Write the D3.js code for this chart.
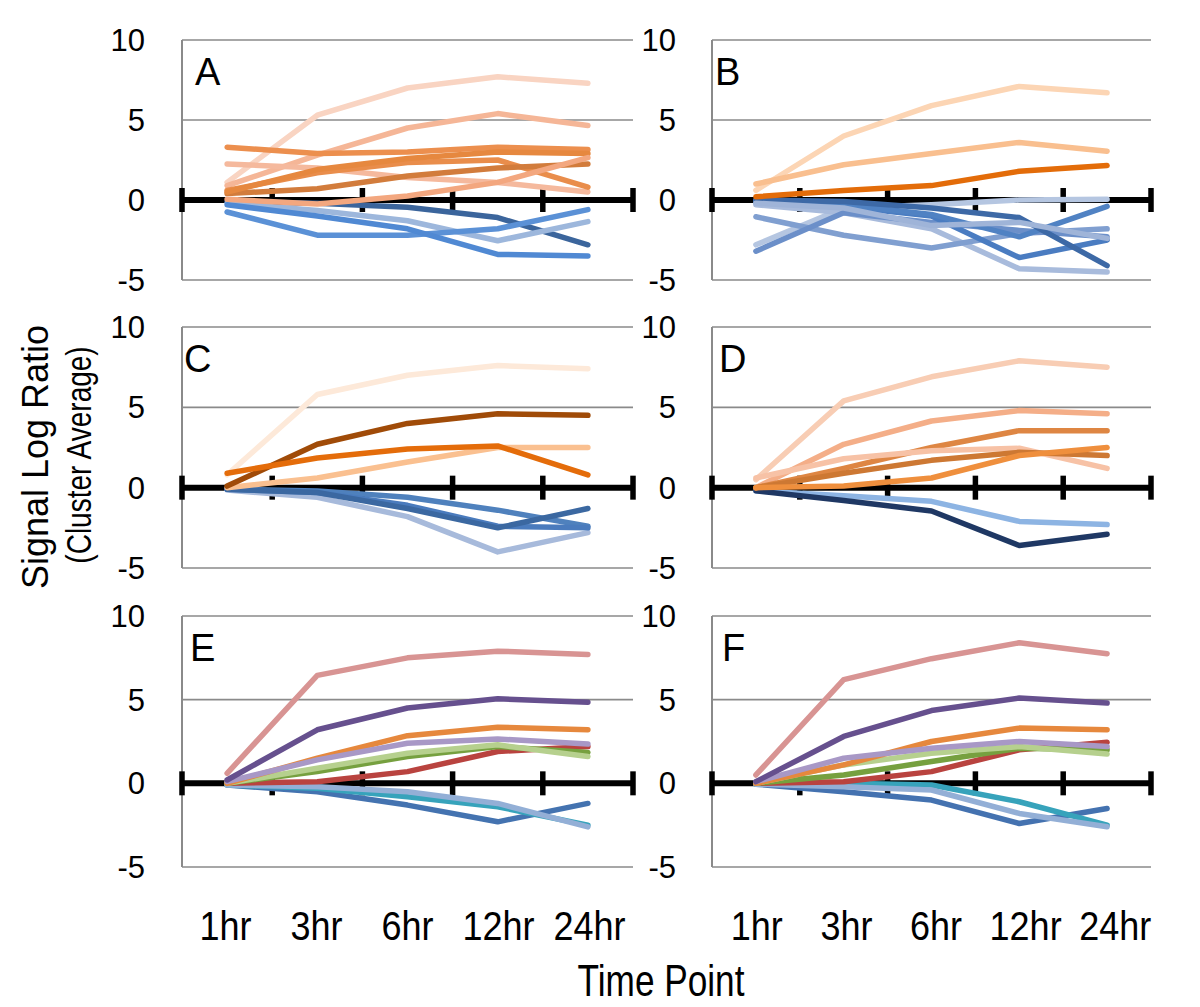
<!DOCTYPE html>
<html>
<head>
<meta charset="utf-8">
<script src="https://cdn.jsdelivr.net/npm/d3@7"></script>
<style>
  body { margin: 0; background: #fff; }
  svg { display: block; }
</style>
</head>
<body>
<svg id="chart" width="1200" height="1007"></svg>
<script>
// ---------------- data ----------------
const categories = ["1hr", "3hr", "6hr", "12hr", "24hr"];
const yTickValues = [-5, 0, 5, 10];
const panelLabels = ["A", "B", "C", "D", "E", "F"];

const seriesA = [
  [-0.1, -0.2, -0.45, -1.1, -2.8],
  [-0.2, -0.65, -1.3, -2.55, -1.35],
  [-0.75, -2.2, -2.2, -1.8, -0.6],
  [-0.3, -1.0, -1.8, -3.4, -3.5],
  [1.1, 5.3, 7.0, 7.7, 7.3],
  [0.9, 2.8, 4.5, 5.4, 4.65],
  [3.3, 2.9, 3.0, 3.3, 3.15],
  [2.25, 2.0, 1.4, 1.1, 0.5],
  [0.6, 1.7, 2.35, 2.5, 0.8],
  [0.4, 0.7, 1.5, 2.0, 2.25],
  [0.5, 1.9, 2.6, 3.0, 2.9],
  [0.05, -0.25, 0.25, 1.1, 2.65]
];
const colorsA = ["#3b659c", "#9db7dc", "#5b91d6", "#5089d3",
  "#f9d4c2", "#f5b697", "#ec8f4e", "#f5b99d", "#e98d4b", "#d27c3c", "#e6883f", "#f3a77f"];

const seriesB = [
  [-2.8, -0.5, -0.3, 0.0, 0.05],
  [-0.3, -0.8, -1.8, -4.3, -4.5],
  [-1.05, -2.2, -3.0, -2.1, -1.8],
  [-3.2, -0.8, -1.4, -1.9, -2.3],
  [-0.1, -0.4, -1.0, -3.6, -2.5],
  [-0.05, -0.3, -0.9, -2.3, -0.4],
  [0.0, -0.1, -0.5, -1.1, -4.1],
  [-0.2, -0.5, -1.6, -1.4, -2.4],
  [0.6, 4.0, 5.9, 7.1, 6.7],
  [1.0, 2.2, 2.9, 3.6, 3.05],
  [0.2, 0.6, 0.9, 1.8, 2.15]
];
const colorsB = ["#b5c6e1", "#a8bbdc", "#809fd0", "#6b8fc9", "#4a7cc1", "#5082c3", "#3d69a6", "#9fb4d8",
  "#fcd5b4", "#f9bf8f", "#e36c09"];

const seriesC = [
  [-0.15, -0.6, -1.8, -4.0, -2.8],
  [-0.1, -0.2, -0.6, -1.4, -2.4],
  [-0.1, -0.3, -1.1, -2.4, -2.5],
  [-0.1, -0.3, -1.3, -2.5, -1.3],
  [0.8, 5.8, 7.0, 7.6, 7.4],
  [0.0, 0.6, 1.6, 2.5, 2.5],
  [0.1, 2.7, 4.0, 4.6, 4.5],
  [0.9, 1.85, 2.4, 2.6, 0.8]
];
const colorsC = ["#a7badb", "#4f81bd", "#4a7bbd", "#3b68a1", "#fde9d9", "#fac090", "#a04b08", "#e46c0a"];

const seriesD = [
  [-0.2, -0.5, -0.85, -2.1, -2.3],
  [-0.2, -0.8, -1.45, -3.6, -2.9],
  [0.5, 5.4, 6.9, 7.9, 7.5],
  [0.0, 2.7, 4.15, 4.8, 4.6],
  [0.0, 1.2, 2.5, 3.55, 3.55],
  [0.6, 1.8, 2.3, 2.45, 1.2],
  [0.0, 0.9, 1.7, 2.2, 2.0],
  [0.0, 0.1, 0.6, 2.0, 2.5]
];
const colorsD = ["#8db4e3", "#1f3864", "#f8cdb4", "#f4ae88", "#de8643", "#f7c2a6", "#cd7833", "#ef8f3d"];

const seriesE = [
  [-0.1, -0.5, -1.3, -2.3, -1.2],
  [-0.1, -0.3, -0.8, -1.4, -2.5],
  [-0.1, -0.2, -0.5, -1.2, -2.6],
  [0.0, 0.1, 0.7, 1.9, 2.2],
  [0.0, 0.7, 1.6, 2.2, 1.85],
  [0.0, 0.9, 1.8, 2.3, 1.6],
  [0.0, 1.5, 2.85, 3.35, 3.2],
  [0.1, 1.4, 2.4, 2.65, 2.35],
  [0.2, 3.2, 4.5, 5.05, 4.85],
  [0.6, 6.45, 7.5, 7.9, 7.7]
];
const colorsE = ["#4473b0", "#37a3bb", "#93afd6", "#b9433f", "#76a03f", "#b6d08e", "#e6883d", "#a898c6", "#66508e", "#d89493"];

const seriesF = [
  [-0.05, -0.5, -1.0, -2.4, -1.5],
  [-0.05, 0.0, -0.1, -1.1, -2.5],
  [-0.05, -0.2, -0.4, -1.8, -2.6],
  [0.0, 0.1, 0.7, 2.0, 2.45],
  [0.0, 0.5, 1.3, 2.1, 2.0],
  [0.0, 1.1, 1.8, 2.2, 1.75],
  [0.0, 1.1, 2.5, 3.3, 3.2],
  [0.1, 1.5, 2.1, 2.5, 2.2],
  [0.1, 2.8, 4.35, 5.1, 4.8],
  [0.5, 6.2, 7.45, 8.4, 7.75]
];
const colorsF = ["#4472b0", "#37a3bb", "#93afd6", "#b9433f", "#76a03f", "#b6d08e", "#e6883d", "#a898c6", "#66508e", "#d89493"];

// ---------------- layout ----------------
const columns = [
  { x0: 182, x1: 633, labelX: 145, tickLabelRange: [180, 635] },
  { x0: 712, x1: 1151, labelX: 676, tickLabelRange: [712, 1160] }
];
const rows = [
  { top: 40, bottom: 280 },
  { top: 327, bottom: 568 },
  { top: 616, bottom: 867 }
];
const letterOffsets = [13, 3, 2, 7, 8, 10];

const panels = [
  { series: seriesA, colors: colorsA },
  { series: seriesB, colors: colorsB },
  { series: seriesC, colors: colorsC },
  { series: seriesD, colors: colorsD },
  { series: seriesE, colors: colorsE },
  { series: seriesF, colors: colorsF }
];

const svg = d3.select("#chart");
const numFont = "'Liberation Sans', Arial, sans-serif";

panels.forEach((p, i) => {
  const col = columns[i % 2];
  const row = rows[Math.floor(i / 2)];
  const x = d3.scaleBand().domain(categories).range([col.x0, col.x1]).paddingInner(0).paddingOuter(0);
  const y = d3.scaleLinear().domain([-5, 10]).range([row.bottom, row.top]);
  const g = svg.append("g");

  // gridlines
  g.selectAll("line.grid").data(yTickValues.filter(v => v !== 0)).join("line")
    .attr("class", "grid")
    .attr("x1", col.x0).attr("x2", col.x1)
    .attr("y1", d => y(d)).attr("y2", d => y(d))
    .attr("stroke", "#8a8a8a").attr("stroke-width", 1.6);
  // left frame
  g.append("line")
    .attr("x1", col.x0).attr("x2", col.x0)
    .attr("y1", y(10)).attr("y2", y(-5))
    .attr("stroke", "#8a8a8a").attr("stroke-width", 2);

  // y tick labels
  g.selectAll("text.ytl").data(yTickValues).join("text")
    .attr("class", "ytl")
    .attr("x", col.labelX).attr("y", d => y(d))
    .attr("dy", "0.36em")
    .attr("text-anchor", "end")
    .style("font-family", numFont).style("font-size", "31px")
    .attr("fill", "#000")
    .text(d => d);

  // black zero axis with ticks at category boundaries
  g.append("line")
    .attr("x1", col.x0).attr("x2", col.x1)
    .attr("y1", y(0)).attr("y2", y(0))
    .attr("stroke", "#000").attr("stroke-width", 6);
  const bounds = categories.map(c => x(c)).concat([x(categories[categories.length - 1]) + x.bandwidth()]);
  g.selectAll("line.tk").data(bounds).join("line")
    .attr("class", "tk")
    .attr("x1", d => d).attr("x2", d => d)
    .attr("y1", y(0) - 12).attr("y2", y(0) + 12)
    .attr("stroke", "#000").attr("stroke-width", 5.5);

  // series lines
  const line = d3.line()
    .x((d, k) => x(categories[k]) + x.bandwidth() / 2)
    .y(d => y(d));
  g.selectAll("path.s").data(p.series).join("path")
    .attr("class", "s")
    .attr("d", d => line(d))
    .attr("fill", "none")
    .attr("stroke", (d, k) => p.colors[k])
    .attr("stroke-width", 5.5)
    .attr("stroke-linecap", "round")
    .attr("stroke-linejoin", "round");

  // panel letter
  g.append("text")
    .attr("x", col.x0 + letterOffsets[i])
    .attr("y", y(10) + 45)
    .style("font-family", numFont).style("font-size", "38px")
    .attr("fill", "#000")
    .text(panelLabels[i]);
});

// x category labels under bottom panels (condensed look)
columns.forEach(col => {
  const xl = d3.scaleBand().domain(categories).range(col.tickLabelRange);
  svg.append("g").selectAll("text").data(categories).join("text")
    .attr("transform", d => `translate(${xl(d) + xl.bandwidth() / 2},940) scale(0.9,1)`)
    .attr("text-anchor", "middle")
    .style("font-family", numFont).style("font-size", "40px")
    .attr("fill", "#000")
    .text(d => d);
});

// axis titles
svg.append("text")
  .attr("transform", "translate(661,996) scale(0.8,1)")
  .attr("text-anchor", "middle")
  .style("font-family", numFont).style("font-size", "44px")
  .attr("fill", "#000")
  .text("Time Point");

svg.append("text")
  .attr("transform", "translate(48,457) rotate(-90)")
  .attr("text-anchor", "middle")
  .style("font-family", numFont).style("font-size", "36px")
  .attr("fill", "#000")
  .text("Signal Log Ratio");

svg.append("text")
  .attr("transform", "translate(91,455) rotate(-90) scale(0.8,1)")
  .attr("text-anchor", "middle")
  .style("font-family", numFont).style("font-size", "35px")
  .attr("fill", "#000")
  .text("(Cluster Average)");
</script>
</body>
</html>
